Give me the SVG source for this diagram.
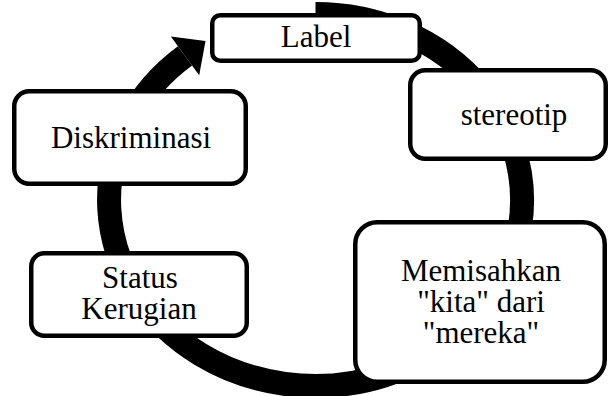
<svg xmlns="http://www.w3.org/2000/svg" width="609" height="396" viewBox="0 0 609 396">
<style>
.box{fill:#fff;stroke:#000;stroke-width:4.5}
.t{font-family:"Liberation Serif","Times New Roman",serif;font-size:31px;fill:#000;text-anchor:middle}
.ring{fill:none;stroke:#000;stroke-width:24}
</style>
<rect width="609" height="396" fill="#fff"/>
<g id="connectors">
<path class="ring" d="M 315.5 14 A 206.5 186 0 1 1 185.0 55.9"/>
<polygon points="170.8,36.6 205.5,41.0 199.2,75.2" fill="#000"/>
</g>
<g id="node-label">
<rect class="box" x="212.25" y="15.25" width="207.5" height="45.5" rx="8"/>
<text class="t" x="316" y="47">Label</text>
</g>
<g id="node-stereotip">
<rect class="box" x="410.25" y="70.25" width="195.5" height="88.5" rx="15"/>
<text class="t" x="514" y="125">stereotip</text>
</g>
<g id="node-memisahkan">
<rect class="box" x="355.25" y="222.25" width="249.5" height="159.5" rx="22"/>
<text class="t" x="481" y="281">Memisahkan</text>
<text class="t" x="481" y="312">"kita" dari</text>
<text class="t" x="481" y="343">"mereka"</text>
</g>
<g id="node-status">
<rect class="box" x="31.25" y="253.25" width="215.5" height="82.5" rx="13"/>
<text class="t" x="140" y="288">Status</text>
<text class="t" x="139" y="319">Kerugian</text>
</g>
<g id="node-diskriminasi">
<rect class="box" x="14.25" y="91.25" width="231.5" height="92.5" rx="15"/>
<text class="t" x="131" y="148">Diskriminasi</text>
</g>
</svg>
